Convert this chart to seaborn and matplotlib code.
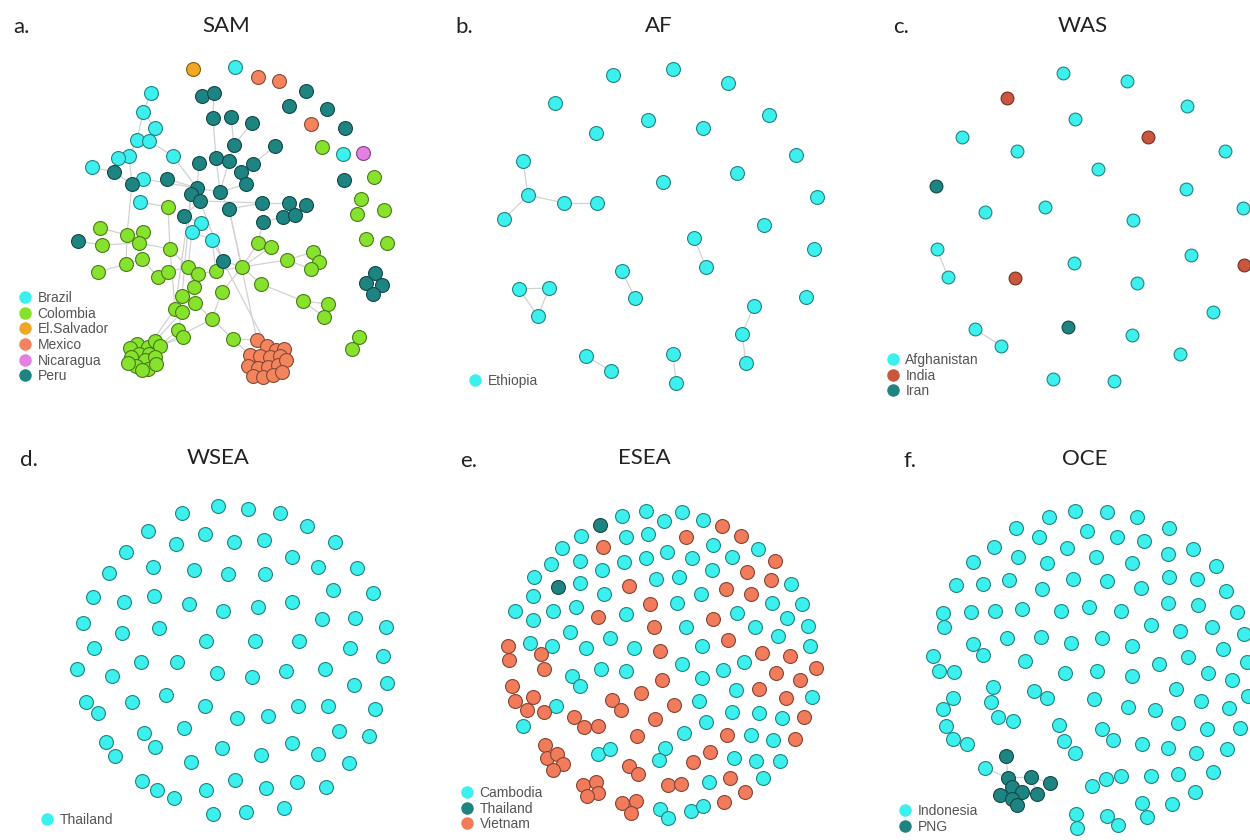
import matplotlib
matplotlib.use("Agg")
import pandas as pd
import matplotlib.pyplot as plt
import seaborn as sns
from matplotlib.lines import Line2D
from matplotlib.colors import to_rgb

# ---- a. SAM ----
sam_id = ["B1", "B2", "B3", "B4", "B5", "B6", "B7", "B8", "B9", "B10", "B11", "B12", "B13", "B14", "B15", "B16",
          "C1", "C2", "C3", "C4", "C5", "C6", "C7", "C8", "C9", "C10", "C11", "C12", "C13", "C14", "C15", "C16",
          "C17", "C18", "C19", "C20", "C21", "C22", "C23", "C24", "C25", "C26", "C27", "C28", "C29", "C30", "C31",
          "C32", "C33", "C36", "C37", "C38", "R1", "R2", "R3", "R4", "R5", "R6", "R7", "R8", "R9",
          "K1", "K2", "K3", "K4", "K5", "K6", "K7", "K8", "K9", "K10", "K11", "K12", "K13", "K14", "K15",
          "E1",
          "M1", "M2", "M3", "X1", "X2", "X3", "X4", "X5", "X6", "X7", "X8", "X9", "X10", "X11", "X12", "X13",
          "X14", "X15", "X16", "X17",
          "N1",
          "P1", "P2", "P3", "P4", "P5", "P6", "P7", "P8", "P9", "P10", "P11", "P12", "P13", "P14", "P15", "P16",
          "P17", "P18", "P19", "P20", "P21", "P22", "P23", "P24", "P25", "P26", "P27", "P28", "P29", "P30", "P31",
          "P32", "P33", "P34", "P35", "Q1", "Q2", "Q3", "Q4"]
sam_x = [151, 143, 155, 137, 149, 129, 118, 173, 92, 143, 140, 201, 192, 212, 343, 235,
         168, 100, 127, 143, 102, 139, 170, 126, 142, 98, 158, 168, 188, 198, 216, 194,
         222, 182, 195, 175, 182, 212, 178, 183, 233, 258, 271, 287, 313, 319, 311,
         242, 261, 303, 328, 324, 322, 374, 361, 357, 384, 366, 387, 359, 352,
         137, 148, 155, 160, 130, 139, 149, 131, 145, 155, 136, 148, 156, 128, 142,
         193,
         258, 279, 311, 257, 267, 276, 284, 250, 260, 270, 280, 248, 258, 268, 278, 286,
         253, 263, 273, 282,
         363,
         114, 132, 167, 202, 214, 213, 231, 234, 199, 216, 229, 197, 191, 200, 220, 229,
         184, 78, 306, 289, 327, 345, 252, 275, 253, 241, 246, 344, 262, 289, 306,
         263, 283, 295, 223, 375, 366, 382, 373]
sam_y = [93, 112, 128, 140, 141, 156, 158, 156, 167, 179, 202, 223, 232, 240, 154, 67,
         207, 228, 235, 232, 245, 243, 249, 264, 259, 272, 277, 272, 267, 274, 271, 287,
         292, 296, 303, 309, 312, 319, 330, 337, 339, 243, 247, 260, 252, 262, 269,
         267, 284, 301, 304, 317, 147, 177, 199, 214, 210, 239, 243, 337, 349,
         344, 347, 341, 346, 348, 354, 354, 357, 360, 357, 366, 369, 364, 363, 370,
         69,
         77, 81, 124, 340, 346, 350, 349, 355, 356, 357, 356, 366, 368, 367, 365, 360,
         376, 377, 375, 372,
         153,
         172, 184, 179, 96, 93, 118, 117, 145, 163, 158, 161, 188, 194, 201, 192, 209,
         216, 241, 91, 106, 109, 128, 123, 146, 164, 172, 184, 180, 203, 203, 205,
         222, 217, 215, 261, 273, 283, 285, 294]
sam_country = (["Brazil"] * 16 + ["Colombia"] * 60 + ["El.Salvador"] + ["Mexico"] * 20
               + ["Nicaragua"] + ["Peru"] * 39)
sam_edges = [("B1", "B2"), ("B2", "B4"), ("B2", "B3"), ("B3", "B5"), ("B4", "B5"), ("B4", "B6"), ("B6", "B7"),
             ("B5", "B8"), ("B7", "P1"), ("B9", "P1"), ("P1", "P2"), ("B6", "P2"), ("P2", "B10"), ("B10", "P12"),
             ("B8", "P12"), ("P3", "P12"), ("P2", "C3"), ("B11", "C1"), ("C1", "C7"), ("C7", "C20"),
             ("P4", "P5"), ("P5", "P6"), ("P6", "P10"), ("P10", "P15"), ("P7", "P8"), ("P23", "P8"),
             ("P8", "P11"), ("P10", "P11"), ("P11", "P15"), ("P9", "P12"), ("P12", "P13"), ("P13", "P14"),
             ("P12", "P15"), ("P24", "P25"), ("P25", "P26"), ("P26", "P27"), ("P27", "P15"), ("P15", "P16"),
             ("P16", "P29"), ("P29", "P30"), ("P30", "P33"), ("P33", "P34"), ("P31", "P34"), ("P32", "P33"),
             ("P14", "P17"), ("P17", "B12"), ("B12", "B13"), ("B13", "B14"), ("P14", "P29"), ("P14", "P35"),
             ("P32", "C26"), ("P16", "C32"), ("P16", "X1"), ("B14", "X2"), ("P35", "C32"), ("C2", "C3"),
             ("P18", "C5"), ("C3", "C4"), ("C4", "C6"), ("C5", "C6"), ("C6", "C7"), ("C3", "C8"), ("C8", "C9"),
             ("C8", "C10"), ("C9", "C11"), ("C11", "C12"), ("C12", "C13"), ("C7", "C13"), ("C13", "C14"),
             ("C14", "C15"), ("C15", "P35"), ("B13", "C13"), ("B14", "C15"), ("C13", "C16"), ("C16", "C18"),
             ("C16", "C19"), ("C18", "C21"), ("C20", "C21"), ("C21", "C23"), ("C19", "C22"), ("C22", "C25"),
             ("C20", "K2"), ("C21", "K3"), ("C23", "K4"), ("C24", "K4"), ("C22", "K4"), ("P13", "C20"),
             ("C15", "C32"), ("C32", "C26"), ("C32", "C27"), ("C32", "C28"), ("C28", "C29"), ("C28", "C31"),
             ("C29", "C30"), ("C30", "C31"), ("C32", "C33"), ("C33", "C36"), ("C36", "C37"), ("C36", "C38"),
             ("C37", "C38"), ("C32", "C17"), ("C17", "C22"), ("C25", "X1"), ("C25", "X5"), ("P13", "C18"),
             ("Q1", "Q2"), ("Q1", "Q3"), ("Q2", "Q4"), ("Q3", "Q4"), ("R8", "R9"),
             ("K1", "K6"), ("K2", "K7"), ("K6", "K9"), ("X2", "X6"), ("X6", "X10")]

# ---- b. AF ----
af_x = [523, 528, 504, 564, 597, 694, 706, 622, 635, 519, 549, 538, 754, 742, 746, 586, 611, 673, 676,
        613, 673, 728, 555, 648, 703, 596, 769, 796, 737, 663, 817, 764, 814, 806]
af_y = [161, 195, 219, 203, 203, 238, 267, 271, 298, 289, 288, 316, 306, 334, 363, 356, 371, 354, 383,
        75, 69, 83, 103, 120, 128, 133, 115, 155, 173, 182, 197, 225, 249, 297]
af_country = ["Ethiopia"] * 34
af_edges = [(0, 1), (1, 2), (1, 3), (3, 4), (5, 6), (7, 8), (9, 10), (10, 11), (11, 9),
            (12, 13), (13, 14), (15, 16), (17, 18)]

# ---- c. WAS ----
was_x = [937, 948, 975, 1001, 1063, 1127, 1187, 1075, 962, 1017, 1225, 1098, 1186, 985, 1045, 1133, 1243,
         1074, 1191, 1137, 1213, 1132, 1180, 1053, 1114,
         1007, 1148, 1015, 1244,
         936, 1068]
was_y = [249, 277, 329, 346, 73, 81, 106, 119, 137, 151, 151, 169, 189, 212, 207, 220, 208,
         263, 255, 283, 312, 335, 354, 379, 381,
         98, 137, 278, 265,
         186, 327]
was_country = ["Afghanistan"] * 25 + ["India"] * 4 + ["Iran"] * 2
was_edges = [(0, 1), (2, 3)]

# ---- d. WSEA ----
wsea_x = [182, 218, 248, 280, 148, 205, 176, 234, 264, 307, 335, 126, 292, 153, 194, 228, 265, 318, 357, 109,
          93, 124, 154, 189, 223, 258, 292, 333, 373, 83, 122, 159, 206, 255, 299, 322, 355, 386, 94, 350,
          383, 77, 112, 141, 177, 217, 252, 286, 325, 354, 387, 86, 98, 132, 166, 205, 237, 268, 298, 328,
          375, 106, 115, 144, 155, 184, 222, 261, 292, 318, 339, 369, 349, 191, 142, 157, 174, 206, 235, 266,
          297, 326, 213, 246, 284]
wsea_y = [513, 506, 509, 513, 531, 534, 544, 542, 540, 526, 542, 552, 557, 567, 570, 574, 574, 567, 568, 573,
          597, 602, 596, 604, 611, 607, 602, 590, 593, 623, 633, 628, 641, 641, 641, 619, 618, 627, 648, 648,
          656, 669, 676, 662, 662, 673, 677, 671, 669, 685, 683, 702, 713, 702, 695, 706, 718, 716, 706, 706,
          709, 742, 756, 733, 747, 728, 748, 755, 743, 754, 731, 736, 763, 762, 781, 790, 798, 790, 780, 788,
          782, 787, 814, 812, 808]
wsea_country = ["Thailand"] * len(wsea_x)

# ---- e. ESEA ----
esea_cambodia = [(622, 516), (646, 511), (664, 521), (682, 512), (703, 520), (581, 536), (626, 537), (648, 534),
                 (562, 548), (713, 545), (758, 549), (580, 561), (624, 562), (646, 558), (667, 552), (692, 558),
                 (732, 557), (551, 564), (602, 570), (712, 570), (534, 577), (580, 583), (656, 579), (679, 577),
                 (791, 584), (533, 596), (604, 594), (701, 594), (515, 611), (553, 611), (576, 607), (626, 614),
                 (677, 603), (772, 603), (802, 604), (533, 620), (737, 613), (787, 618), (570, 632), (686, 627),
                 (755, 627), (808, 626), (530, 643), (552, 646), (586, 648), (610, 638), (634, 648), (702, 646),
                 (778, 636), (810, 646), (601, 669), (626, 671), (682, 664), (744, 662), (723, 670), (572, 676),
                 (580, 686), (702, 678), (736, 690), (812, 697), (699, 701), (556, 706), (732, 712), (759, 713),
                 (706, 722), (782, 718), (523, 726), (684, 733), (751, 735), (773, 740), (598, 754), (610, 749),
                 (665, 748), (659, 760), (734, 758), (756, 761), (780, 761), (709, 782), (763, 778), (660, 809),
                 (668, 818), (691, 811), (703, 806)]
esea_thailand = [(600, 525), (558, 587)]
esea_vietnam = [(722, 526), (741, 536), (686, 537), (603, 547), (775, 561), (747, 572), (771, 580), (629, 586),
                (726, 589), (751, 594), (650, 604), (598, 617), (654, 627), (713, 619), (728, 640), (660, 651),
                (762, 653), (790, 656), (508, 646), (509, 660), (541, 654), (544, 669), (776, 673), (800, 680),
                (816, 668), (662, 680), (641, 693), (759, 689), (786, 698), (512, 686), (515, 701), (533, 697),
                (527, 710), (544, 712), (612, 700), (621, 710), (674, 705), (574, 717), (584, 727), (598, 726),
                (655, 719), (804, 717), (637, 736), (727, 735), (795, 739), (545, 745), (547, 758), (557, 754),
                (563, 764), (553, 770), (629, 766), (638, 774), (693, 762), (710, 752), (583, 785), (596, 782),
                (598, 793), (587, 796), (668, 785), (681, 784), (730, 778), (745, 792), (724, 802), (622, 803),
                (636, 801), (631, 813)]

# ---- f. OCE ----
oce_png = [(1006, 756), (1008, 778), (1031, 777), (1050, 783), (1012, 787), (1022, 792), (1000, 795),
           (1037, 794), (1012, 799), (1017, 805)]
oce_indonesia = [(985, 768),
                 (1049, 517), (1075, 511), (1107, 512), (1137, 517), (1016, 528), (1039, 537), (1087, 531),
                 (1117, 537), (1144, 541), (1169, 528), (994, 547), (1018, 557), (1067, 548), (1096, 557),
                 (1132, 563), (1168, 554), (1193, 549), (1047, 563), (973, 562), (1216, 566), (956, 585),
                 (983, 584), (1009, 580), (1042, 589), (1073, 579), (1107, 581), (1141, 588), (1169, 577),
                 (1197, 579), (1226, 591), (943, 613), (944, 627), (971, 612), (995, 611), (1022, 609),
                 (1061, 611), (1089, 607), (1121, 611), (1168, 603), (1198, 605), (1237, 612), (1151, 625),
                 (1180, 631), (1212, 627), (1244, 634), (973, 644), (983, 655), (1007, 638), (1041, 637),
                 (1071, 643), (1102, 638), (1132, 646), (1223, 649), (1188, 657), (1247, 662), (933, 656),
                 (939, 671), (954, 672), (1025, 661), (1065, 673), (1097, 671), (1132, 676), (1159, 664),
                 (1208, 673), (1232, 680), (993, 687), (1034, 691), (1047, 698), (1094, 699), (1128, 707),
                 (1155, 710), (1176, 689), (1201, 701), (1229, 708), (1248, 696), (953, 698), (991, 702),
                 (943, 709), (946, 726), (998, 717), (1013, 721), (1059, 725), (1102, 729), (1113, 740),
                 (1064, 741), (1075, 753), (1178, 723), (1207, 729), (1240, 728), (953, 739), (967, 744),
                 (1142, 744), (1168, 748), (1196, 753), (1227, 749), (1092, 786), (1106, 779), (1121, 776),
                 (1151, 776), (1178, 774), (1213, 772), (1195, 792), (1142, 803), (1172, 804), (1147, 817),
                 (1076, 814), (1077, 828), (1107, 816), (1118, 825)]
oce_edges = [(10, 1), (0, 1), (1, 2), (2, 3), (1, 4), (4, 5), (5, 7), (4, 6), (6, 8), (8, 9),
             (5, 8), (2, 7), (4, 8)]

letters = ["a.", "b.", "c.", "d.", "e.", "f."]
titles = ["SAM", "AF", "WAS", "WSEA", "ESEA", "OCE"]

colors = {"Brazil": "#3CF0EE", "Colombia": "#86E22C", "El.Salvador": "#F0A724", "Mexico": "#F4845E",
          "Nicaragua": "#E47FE4", "Peru": "#1E8482", "Ethiopia": "#3CF0EE", "Afghanistan": "#3CF0EE",
          "India": "#C8573E", "Iran": "#1E8482", "Thailand": "#3CF0EE", "Cambodia": "#3CF0EE",
          "Vietnam": "#F27B5B", "Indonesia": "#3CF0EE", "PNG": "#1E8482"}
colors_esea = dict(colors, Thailand="#1E8482")


def pairs_frame(groups):
    rows = []
    for name, pts in groups:
        for x, y in pts:
            rows.append((x, y, name))
    return pd.DataFrame(rows, columns=["x", "y", "country"])


def darker(c, f=0.5):
    r, g, b = to_rgb(c)
    return (r * f, g * f, b * f)


sns.set_theme(style="white")
plt.rcParams["font.family"] = ["Liberation Sans", "DejaVu Sans"]

fig = plt.figure(figsize=(12.5, 8.4), dpi=100)
fig.patch.set_facecolor("white")

# panel boxes in image pixels, where the letter and title go, where the legend starts
boxes = [(0, 0, 420, 420), (420, 0, 840, 420), (840, 0, 1250, 420),
         (0, 420, 420, 840), (420, 420, 840, 840), (840, 420, 1250, 840)]
letter_pos = [(13, 27), (455, 27), (893, 27), (20, 460), (460, 461), (903, 461)]
title_pos = [(226, 26), (659, 26), (1083, 26), (218, 458), (644, 458), (1085, 459)]
legend_pos = [(18, 291), (468, 374), (886, 353), (40, 813), (460, 786), (898, 804)]


def draw_panel(k, df, edges, order, pal, size=100):
    x0, y0, x1, y1 = boxes[k]
    ax = fig.add_axes([x0 / 1250, 1 - y1 / 840, (x1 - x0) / 1250, (y1 - y0) / 840])
    for a, b in edges:
        ax.plot([df.loc[a, "x"], df.loc[b, "x"]], [df.loc[a, "y"], df.loc[b, "y"]],
                color="#d2d2d2", lw=0.9, zorder=1)
    for name in order:
        sub = df[df["country"] == name]
        sns.scatterplot(data=sub, x="x", y="y", color=pal[name], edgecolor=darker(pal[name], 0.55),
                        linewidth=0.8, s=size, ax=ax, legend=False, zorder=3)
    ax.set_xlim(x0, x1)
    ax.set_ylim(y1, y0)
    ax.axis("off")
    ax.text(*letter_pos[k], letters[k], fontsize=16, family=["Lato", "DejaVu Sans"], ha="left", va="center",
            color="#222222")
    ax.text(*title_pos[k], titles[k], fontsize=16, family=["Lato", "DejaVu Sans"], ha="center", va="center",
            color="#222222")
    handles = [Line2D([], [], marker="o", ls="", markersize=9, markerfacecolor=pal[n], markeredgecolor="none")
               for n in order]
    leg = ax.legend(handles, order, loc="upper left", bbox_to_anchor=legend_pos[k], bbox_transform=ax.transData,
                    frameon=False, fontsize=10, handlelength=1.0, handletextpad=0.4, labelspacing=0.12,
                    borderpad=0, borderaxespad=0)
    for t in leg.get_texts():
        t.set_color("#555555")
    return ax


sam_df = pd.DataFrame({"x": sam_x, "y": sam_y, "country": sam_country}, index=sam_id)
af_df = pd.DataFrame({"x": af_x, "y": af_y, "country": af_country})
was_df = pd.DataFrame({"x": was_x, "y": was_y, "country": was_country})
wsea_df = pd.DataFrame({"x": wsea_x, "y": wsea_y, "country": wsea_country})
esea_df = pairs_frame([("Cambodia", esea_cambodia), ("Thailand", esea_thailand), ("Vietnam", esea_vietnam)])
oce_df = pairs_frame([("PNG", oce_png), ("Indonesia", oce_indonesia)])

draw_panel(0, sam_df, sam_edges, ["Brazil", "Colombia", "El.Salvador", "Mexico", "Nicaragua", "Peru"], colors)
draw_panel(1, af_df, af_edges, ["Ethiopia"], colors)
draw_panel(2, was_df, was_edges, ["Afghanistan", "India", "Iran"], colors, size=85)
draw_panel(3, wsea_df, [], ["Thailand"], colors)
draw_panel(4, esea_df, [], ["Cambodia", "Thailand", "Vietnam"], colors_esea)
draw_panel(5, oce_df, oce_edges, ["Indonesia", "PNG"], colors)

fig.savefig("out.png", dpi=100, facecolor="white")
